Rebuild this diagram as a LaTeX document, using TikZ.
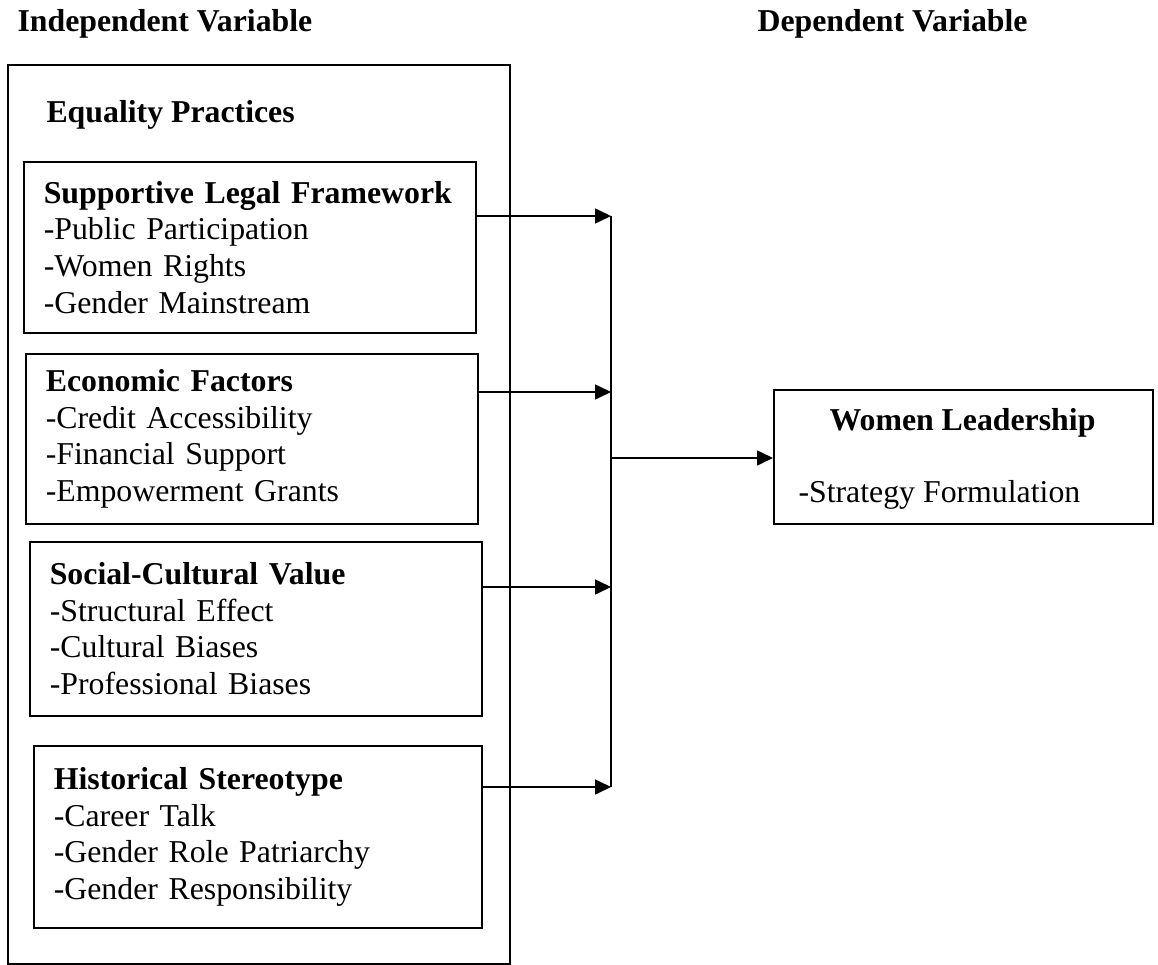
\documentclass[tikz,border=0pt]{standalone}
\usepackage{fontspec}
\setmainfont{Liberation Serif}
\usetikzlibrary{arrows.meta,positioning}

\tikzset{
  factor/.style={draw,line width=1.6pt,anchor=north west,inner xsep=20pt,align=left},
  frame/.style={draw,line width=1.6pt,anchor=north west},
  heading/.style={anchor=base west,font=\fontsize{31.8}{36.6}\selectfont\bfseries},
  flow/.style={line width=1.6pt,-{Triangle[length=16pt,width=15pt]}}
}

\begin{document}
\begin{tikzpicture}[x=1pt,y=-1pt,font=\fontsize{31.8}{36.6}\selectfont]
\useasboundingbox (0,0) rectangle (1158,965);
% headings
\node[heading] (indep) at (14,32) {Independent Variable};
\node[heading] (dep) at (754,32) {Dependent Variable};
% equality practices frame
\node[frame,minimum width=502pt,minimum height=899pt] (eqp) at (7,64) {};
\node[heading] (eqptitle) at (43,123) {Equality Practices};
% factor boxes
\node[factor,minimum width=452pt,minimum height=171pt,text width=412pt] (slf) at (23,161)
  {\textbf{Supportive Legal Framework}\\-Public Participation\\-Women Rights\\-Gender Mainstream};
\node[factor,minimum width=452pt,minimum height=170pt,text width=412pt] (ecf) at (25,353)
  {\textbf{Economic Factors}\\-Credit Accessibility\\-Financial Support\\-Empowerment Grants};
\node[factor,minimum width=452pt,minimum height=174pt,text width=412pt] (scv) at (29,541)
  {\textbf{Social-Cultural Value}\\-Structural Effect\\-Cultural Biases\\-Professional Biases};
\node[factor,minimum width=448pt,minimum height=182pt,text width=408pt] (hst) at (33,745)
  {\textbf{Historical Stereotype}\\-Career Talk\\-Gender Role Patriarchy\\-Gender Responsibility};
% dependent variable
\node[frame,minimum width=379pt,minimum height=134pt] (wl) at (773,389) {};
\node[heading,anchor=base] (wltitle) at (962.5,430) {Women Leadership};
\node[anchor=base west] (wlitem) at (795,502) {-Strategy Formulation};
% bus and arrows
\coordinate (bus1) at (611,216);
\coordinate (bus2) at (611,392);
\coordinate (bus3) at (611,587);
\coordinate (bus4) at (611,787);
\coordinate (busm) at (611,458);
\draw[flow] (slf.east |- bus1) -- (bus1);
\draw[flow] (ecf.east |- bus2) -- (bus2);
\draw[flow] (scv.east |- bus3) -- (bus3);
\draw[flow] (hst.east |- bus4) -- (bus4);
\draw[line width=1.6pt] (bus1) -- (bus4);
\draw[flow] (busm) -- (wl.west |- busm);
\end{tikzpicture}
\end{document}
